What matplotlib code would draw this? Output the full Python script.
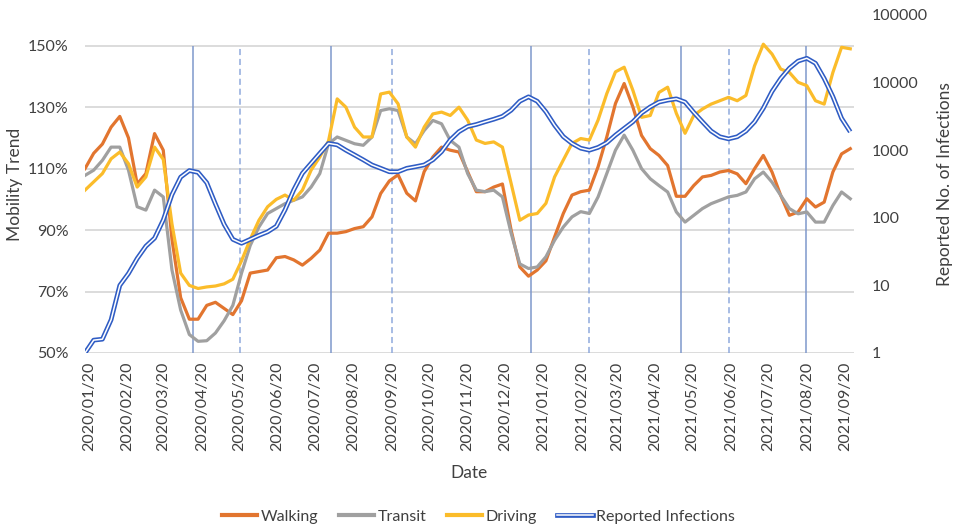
import matplotlib
matplotlib.use("Agg")
import matplotlib.pyplot as plt
import matplotlib.dates as mdates
from matplotlib.lines import Line2D
from matplotlib.legend_handler import HandlerTuple
import pandas as pd

plt.rcParams['font.family'] = ['Lato', 'DejaVu Sans']

# weekly sample dates (x categories)
dates = pd.date_range('2020-01-17', periods=89, freq='7D')

walking = [110, 115, 118, 123.5, 127, 120, 105, 108.4, 121.4, 116,
           87, 68, 61, 61, 65.5, 66.5, 64.5, 62.5, 67, 76,
           76.5, 77, 81, 81.4, 80.3, 78.6, 80.8, 83.5, 89, 89,
           89.5, 90.5, 91.1, 94.3, 101.9, 106, 108, 102, 99.5, 109,
           113.8, 117, 116, 115.4, 109, 102.5, 102.5, 104, 105, 90,
           78, 75, 77, 80, 87.8, 95.4, 101.4, 102.5, 103, 110.6,
           120.3, 131.2, 137.7, 130.1, 120.8, 116.5, 114.3, 111, 101, 101,
           104.5, 107.3, 107.8, 108.9, 109.4, 108.3, 105.1, 110, 114.3, 108.9,
           101.3, 94.8, 95.9, 100.2, 97.5, 99.1, 108.9, 114.8, 116.5]

transit = [107.8, 109.5, 112.7, 117, 117, 109.5, 97.6, 96.5, 103, 100.8,
           77, 64, 56, 53.8, 54, 56.5, 60.5, 65.5, 76, 85,
           91, 95.4, 97, 98.6, 99.7, 100.8, 104, 108.4, 118.1, 120.3,
           119.2, 118.1, 117.6, 120.3, 128.9, 129.5, 128.9, 120.3, 118.1, 122.4,
           125.7, 124.6, 119.2, 117, 108.4, 103, 102.5, 103, 100.8, 89,
           79, 77.5, 78, 81.3, 86.7, 91, 94.3, 96, 95.4, 100.8,
           108.4, 116, 120.9, 116, 110, 106.7, 104.5, 102.4, 95.9, 92.6,
           94.8, 97, 98.6, 99.7, 100.8, 101.3, 102.4, 106.7, 108.9, 105.6,
           101.3, 97, 95.3, 95.9, 92.6, 92.6, 98, 102.4, 100.2]

driving = [103, 105.7, 108.4, 113.2, 115.4, 111.6, 104, 107.3, 117, 113,
           92, 76, 72, 71, 71.5, 71.8, 72.5, 74, 80, 87,
           93.2, 97.6, 100, 101.4, 99.7, 103, 109.5, 113.8, 119, 132.7,
           130, 123.5, 120.3, 120.3, 134.3, 134.9, 131.1, 120.3, 117, 123.5,
           127.8, 128.4, 127.3, 130, 125.8, 119.3, 118.2, 118.7, 117, 105.2,
           93.2, 94.9, 95.4, 98.7, 107.3, 112.8, 118.2, 119.8, 119.3, 125.8,
           134.4, 141.5, 143, 135.5, 126.7, 127.3, 134.8, 136.5, 128, 121.5,
           127.3, 129.4, 131, 132.1, 133.2, 132.1, 133.8, 143.5, 150.5, 147.3,
           142.4, 141.3, 138.1, 137, 132.1, 131, 141.3, 149.5, 149]

infections = [1, 1.55, 1.6, 3.1, 10, 15, 25, 38, 50, 93,
              220, 400, 500, 470, 330, 160, 80, 48, 42, 48,
              55, 62, 75, 131, 258, 455, 640, 900, 1260, 1200,
              1000, 850, 720, 605, 540, 480, 480, 540, 570, 605,
              720, 950, 1420, 1880, 2240, 2400, 2630, 2870, 3170, 3900,
              5300, 6160, 5300, 3700, 2340, 1590, 1260, 1070, 1000, 1100,
              1290, 1670, 2100, 2630, 3550, 4370, 5150, 5500, 5750, 5150,
              3630, 2630, 1920, 1580, 1470, 1580, 1920, 2630, 4170, 7400,
              11500, 16300, 20800, 22900, 19300, 11500, 6200, 2960, 1870]

# wave peaks (solid) and troughs (dashed)
peak_dates = ['2020-04-13', '2020-08-02', '2021-01-10', '2021-05-11', '2021-08-19']
trough_dates = ['2020-05-21', '2020-09-20', '2021-02-26', '2021-06-18']

tick_dates = pd.date_range('2020-01-01', '2021-09-01', freq='MS') + pd.Timedelta(days=19)

c_walk = '#E2752F'
c_transit = '#A0A0A0'
c_drive = '#FBBC2A'
c_inf = '#2F5CC4'
txt = '#404040'

fig = plt.figure(figsize=(9.57, 5.31), dpi=100)
ax = fig.add_axes([85 / 957, 1 - 353 / 531, (854 - 85) / 957, (353 - 15) / 531])

ax.vlines(pd.to_datetime(peak_dates), 50, 150, color='#7F98CC', lw=1.1, zorder=1)
ax.vlines(pd.to_datetime(trough_dates), 50, 150, color='#8FAADC', lw=1.1,
          linestyles=(0, (4, 2.5)), zorder=1)

ax.plot(dates, walking, color=c_walk, lw=2.3, zorder=3)
ax.plot(dates, transit, color=c_transit, lw=2.3, zorder=3)
ax.plot(dates, driving, color=c_drive, lw=2.3, zorder=3)

ax.set_ylim(50, 160)
ax.set_yticks([50, 70, 90, 110, 130, 150])
ax.set_yticklabels([f'{v}%' for v in [50, 70, 90, 110, 130, 150]])
ax.yaxis.grid(True, color='#D9D9D9', lw=1.3, zorder=0)
ax.set_axisbelow(True)
ax.set_xlim(pd.Timestamp('2020-01-17'), pd.Timestamp('2021-09-27'))
ax.set_xticks(tick_dates)
ax.xaxis.set_major_formatter(mdates.DateFormatter('%Y/%m/%d'))
ax.tick_params(axis='x', rotation=90, length=0, pad=6, labelsize=11.5, labelcolor=txt)
ax.tick_params(axis='y', length=0, pad=12, labelsize=11.5, labelcolor=txt)
for s in ax.spines.values():
    s.set_visible(False)
ax.set_ylabel('Mobility Trend', fontsize=12.5, color=txt, labelpad=3)
ax.set_xlabel('Date', fontsize=12.5, color=txt, labelpad=10)

ax2 = ax.twinx()
ax2.plot(dates, infections, color=c_inf, lw=3.4, solid_capstyle='butt', zorder=4)
ax2.plot(dates, infections, color='white', lw=1.1, solid_capstyle='butt', zorder=5)
ax2.set_yscale('log')
ax2.set_ylim(1, 100000)
ax2.set_yticks([1, 10, 100, 1000, 10000, 100000])
ax2.set_yticklabels(['1', '10', '100', '1000', '10000', '100000'])
ax2.minorticks_off()
ax2.tick_params(axis='y', length=0, pad=13, labelsize=11.5, labelcolor=txt)
for s in ax2.spines.values():
    s.set_visible(False)
ax2.set_ylabel('Reported No. of Infections', fontsize=12.5, color=txt, labelpad=6)

handles = [Line2D([], [], color=c_walk, lw=3),
           Line2D([], [], color=c_transit, lw=3),
           Line2D([], [], color=c_drive, lw=3),
           (Line2D([], [], color=c_inf, lw=3.4), Line2D([], [], color='white', lw=1.1))]
labels = ['Walking', 'Transit', 'Driving', 'Reported Infections']
fig.legend(handles, labels, loc='center', bbox_to_anchor=(0.5, 1 - 517 / 531), ncol=4,
           frameon=False, fontsize=11.5, handlelength=2.2, handletextpad=0.2,
           columnspacing=1.3, labelcolor=txt,
           handler_map={tuple: HandlerTuple(ndivide=1)})

fig.savefig('out.png', dpi=100)
